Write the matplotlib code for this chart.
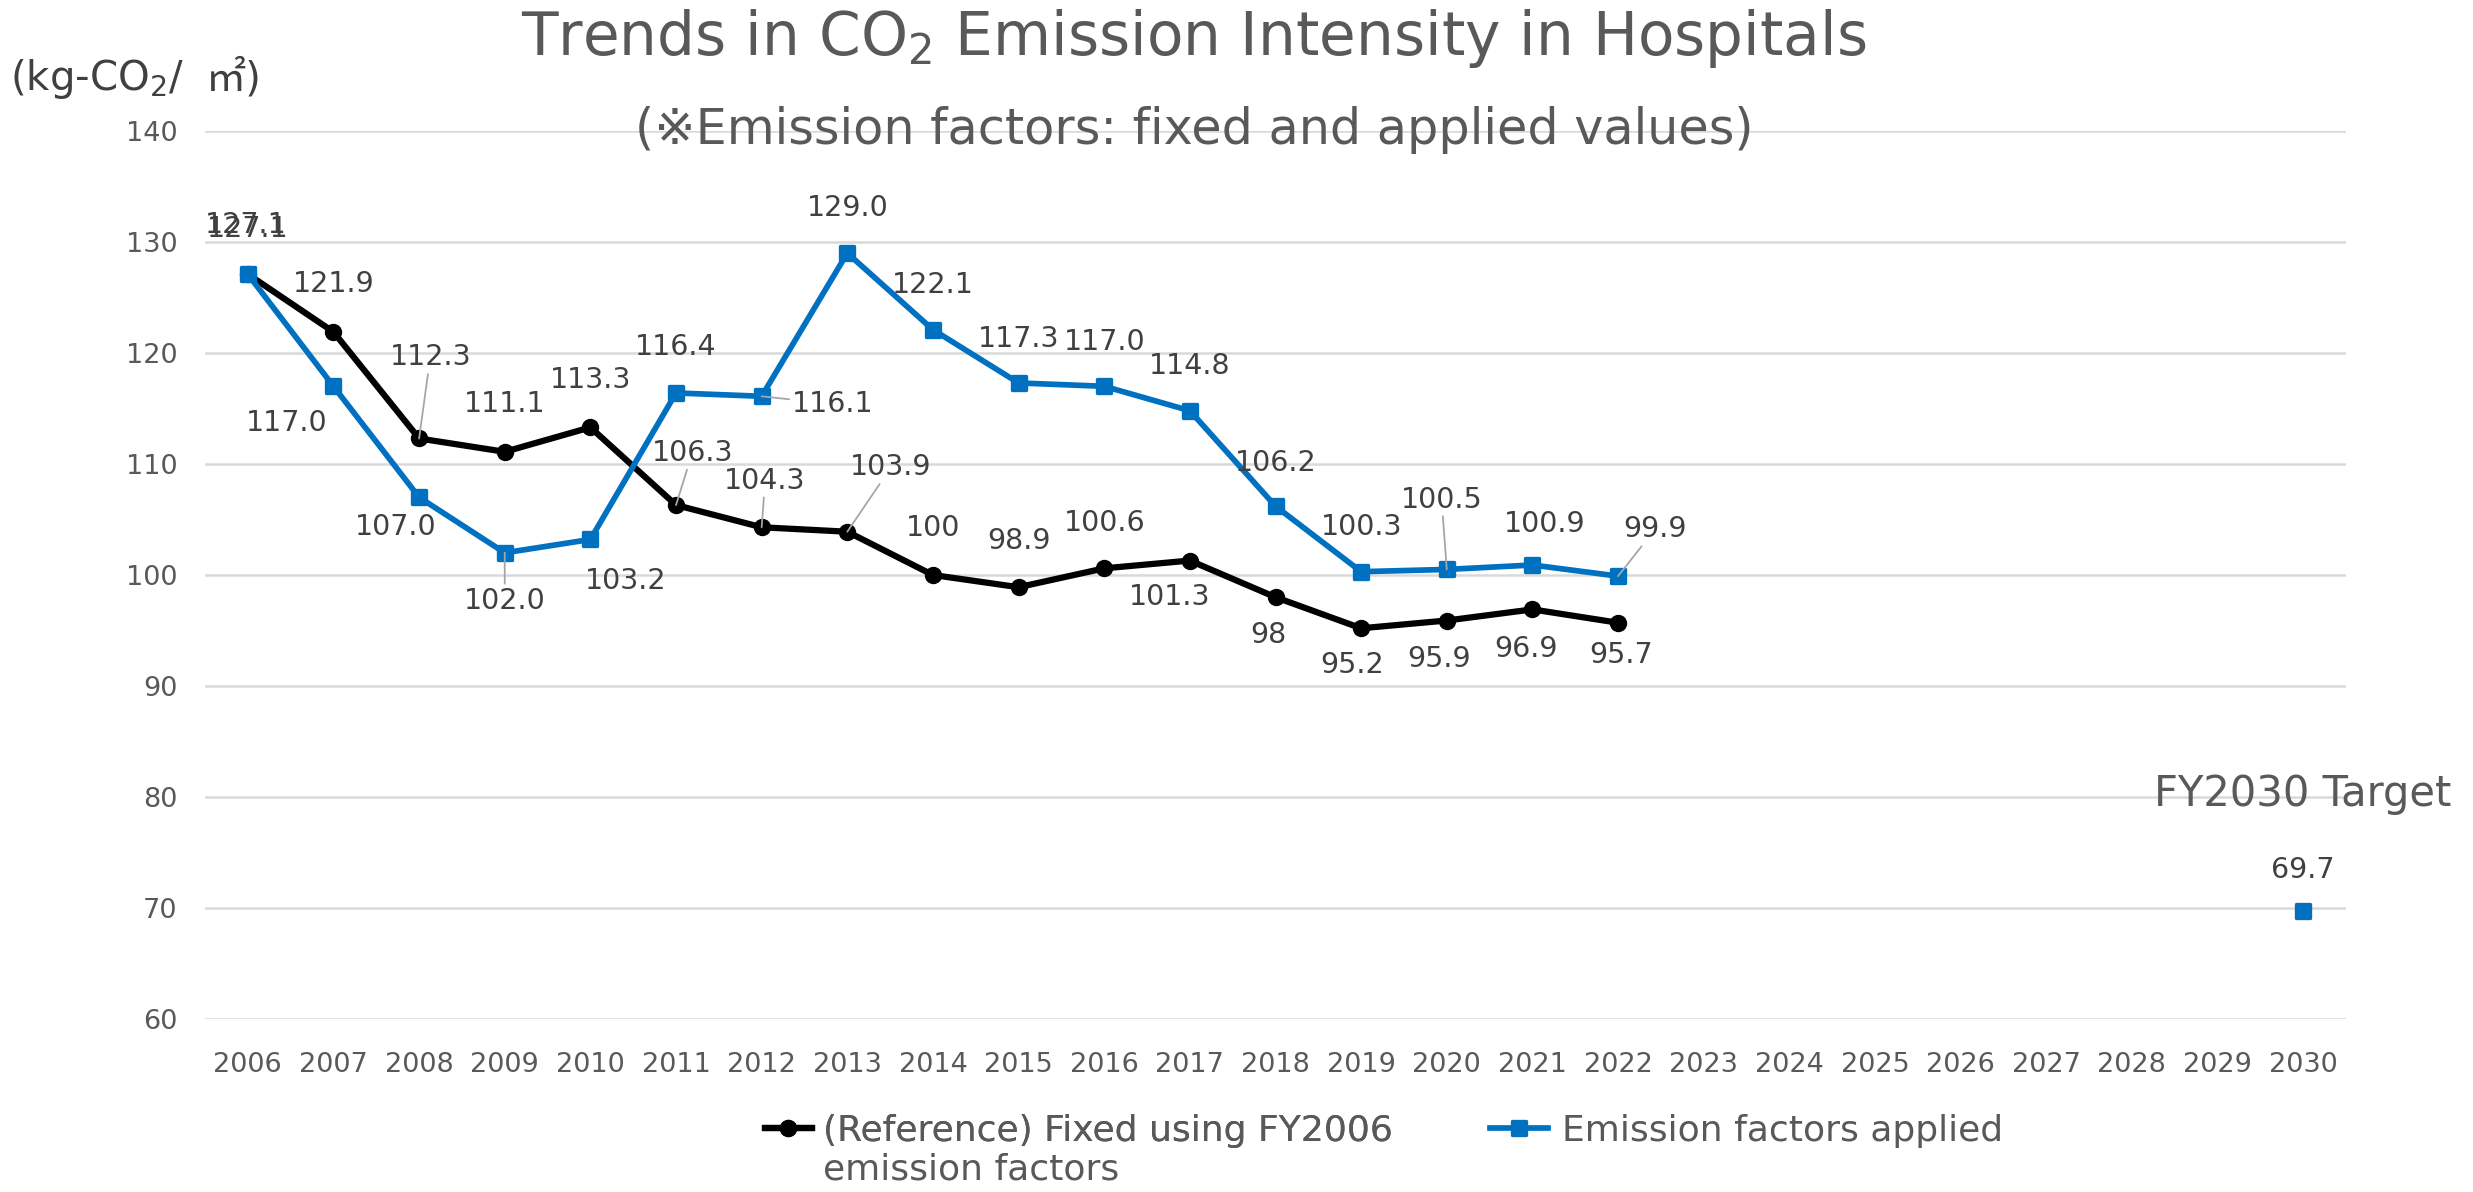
import matplotlib
matplotlib.use('Agg')
import matplotlib.pyplot as plt
from matplotlib.markers import MarkerStyle
from matplotlib.lines import Line2D

plt.rcParams['font.family'] = ['DejaVu Sans', 'Noto Sans CJK JP']

# ---------------- data ----------------
axis_years = list(range(2006, 2031))
ref_years = list(range(2006, 2023))
ref_values = [127.1, 121.9, 112.3, 111.1, 113.3, 106.3, 104.3, 103.9, 100, 98.9,
              100.6, 101.3, 98, 95.2, 95.9, 96.9, 95.7]
ref_labels = ['127.1', '121.9', '112.3', '111.1', '113.3', '106.3', '104.3', '103.9', '100',
              '98.9', '100.6', '101.3', '98', '95.2', '95.9', '96.9', '95.7']
applied_years = list(range(2006, 2023))
applied_values = [127.1, 117.0, 107.0, 102.0, 103.2, 116.4, 116.1, 129.0, 122.1, 117.3,
                  117.0, 114.8, 106.2, 100.3, 100.5, 100.9, 99.9]
target_years = [2030]
target_values = [69.7]
yticks = [60, 70, 80, 90, 100, 110, 120, 130, 140]

ref_name = '(Reference) Fixed using FY2006'
ref_name2 = 'emission factors'
applied_name = 'Emission factors applied'
title = 'Trends in CO$_2$ Emission Intensity in Hospitals'
subtitle = '(※Emission factors: fixed and applied values)'
ylabel_a = '(kg-CO$_2$/'
ylabel_b = '\u33a1)'
target_text = 'FY2030 Target'

# label layout (dx in years, dy in data units, leader line)
ref_offsets = [(-0.02, 4.4, False), (0, 4.3, False), (0.13, 7.3, True), (0, 4.3, False),
               (0, 4.3, False), (0.19, 4.7, True), (0.04, 4.2, True), (0.51, 5.8, True),
               (0, 4.2, False), (0, 4.2, False), (0, 4.1, False), (-0.24, -3.3, False),
               (-0.08, -3.4, False), (-0.1, -3.3, False), (-0.09, -3.5, False),
               (-0.07, -3.6, False), (0.04, -2.9, False)]
applied_offsets = [(0.0, 4.1, False), (-0.55, -3.3, False), (-0.27, -2.7, False),
                   (0, -4.3, True), (0.41, -3.7, False), (0, 4.1, False), (0.83, -0.7, True),
                   (0, 4.1, False), (0, 4.0, False), (0, 4.0, False), (0, 4.0, False),
                   (0, 4.0, False), (0, 3.9, False), (0, 4.0, False), (-0.06, 6.3, True),
                   (0.14, 3.7, False), (0.43, 4.2, True)]
target_offset = (0, 3.7)

BLUE = '#0070C0'
GREY_TXT = '#595959'
LABEL_TXT = '#404040'
GRID = '#D9D9D9'

fig = plt.figure(figsize=(24.73, 11.92), dpi=100)
ax = fig.add_axes([205 / 2473, 1 - 1019 / 1192, (2346 - 205) / 2473, (1019 - 131) / 1192])

sq = MarkerStyle('s', joinstyle='round')
ax.plot(ref_years, ref_values, color='black', lw=4.5, marker='o', markersize=11.5,
        zorder=3, solid_joinstyle='round')
ax.plot(applied_years, applied_values, color=BLUE, lw=4.1, marker=sq, markersize=9.8,
        markeredgewidth=2.4, markeredgecolor=BLUE, zorder=4, solid_joinstyle='round')
ax.plot(target_years, target_values, color=BLUE, lw=0, marker=sq, markersize=9.8,
        markeredgewidth=2.4, markeredgecolor=BLUE, zorder=4)

ax.set_xlim(2005.5, 2030.5)
ax.set_ylim(60, 140)
ax.set_yticks(yticks)
ax.set_xticks(axis_years)
ax.set_xticklabels([str(y) for y in axis_years])
ax.grid(axis='y', color=GRID, lw=1.8)
ax.set_axisbelow(True)
for s in ax.spines.values():
    s.set_visible(False)
ax.tick_params(axis='y', length=0, pad=20, labelsize=19.5, labelcolor=GREY_TXT)
ax.tick_params(axis='x', length=0, pad=24, labelsize=19.5, labelcolor=GREY_TXT)


def add_labels(xs, vs, labels, offsets):
    for x, v, lab, (dx, dy, leader) in zip(xs, vs, labels, offsets):
        kw = dict(ha='center', va='center', fontsize=20.5, color=LABEL_TXT, zorder=6)
        if leader:
            kw['arrowprops'] = dict(arrowstyle='-', color='#A6A6A6', lw=1.3,
                                    shrinkA=0, shrinkB=0)
        ax.annotate(lab, xy=(x, v), xytext=(x + dx, v + dy), textcoords='data', **kw)


add_labels(ref_years, ref_values, ref_labels, ref_offsets)
add_labels(applied_years, applied_values, ['%.1f' % v for v in applied_values], applied_offsets)
for x, v in zip(target_years, target_values):
    ax.annotate('%.1f' % v, xy=(x, v), xytext=(x + target_offset[0], v + target_offset[1]),
                ha='center', va='center', fontsize=20.5, color=LABEL_TXT)
    ax.text(x, 80.3, target_text, ha='center', va='center', fontsize=30, color=GREY_TXT,
            clip_on=False)

fig.text(1194 / 2473, 1 - 38 / 1192, title, ha='center', va='center', fontsize=43,
         color=GREY_TXT)
fig.text(1194 / 2473, 1 - 130 / 1192, subtitle, ha='center', va='center', fontsize=35.5,
         color=GREY_TXT)
yl = fig.text(10 / 2473, 1 - 90 / 1192, ylabel_a, ha='left', va='baseline', fontsize=29,
              color='#404040')

h1 = Line2D([], [], color='black', lw=4.5, marker='o', markersize=11.5)
h2 = Line2D([], [], color=BLUE, lw=4.1, marker=sq, markersize=9.8, markeredgewidth=2.4)
leg_y = 1 - 1131 / 1192
leg1 = fig.legend([h1], [ref_name], loc='center left', bbox_to_anchor=(765 / 2473, leg_y),
                  frameon=False, fontsize=26, handlelength=1.3, handletextpad=0.3,
                  borderpad=0, borderaxespad=0, labelcolor=GREY_TXT)
fig.add_artist(leg1)
leg2 = fig.legend([h2], [applied_name], loc='center left', bbox_to_anchor=(1490 / 2473, leg_y),
                  frameon=False, fontsize=26, handlelength=1.6, handletextpad=0.4,
                  borderpad=0, borderaxespad=0, labelcolor=GREY_TXT)

fig.canvas.draw()
bb = leg1.get_texts()[0].get_window_extent()
fig.text(bb.x0 / fig.bbox.width, 1 - 1170 / 1192, ref_name2, ha='left', va='center',
         fontsize=26, color=GREY_TXT)
yb = yl.get_window_extent()
fig.text((yb.x1 + 22) / fig.bbox.width, 1 - 90 / 1192, ylabel_b, ha='left', va='baseline',
         fontsize=29, color='#404040')

fig.savefig('out.png', dpi=100, facecolor='white')
